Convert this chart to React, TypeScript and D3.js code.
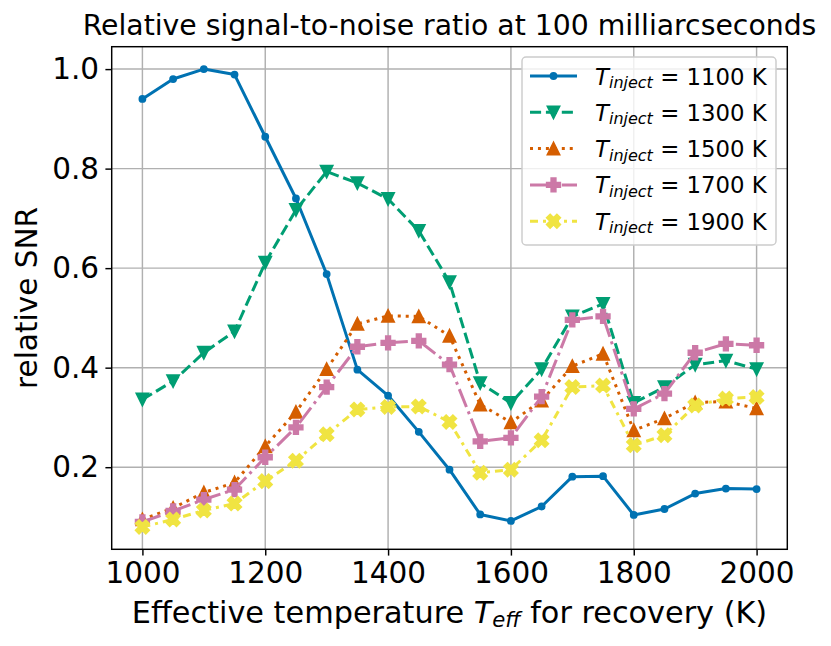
import * as d3 from "d3";
import { useEffect, useRef } from "react";

const temps = [1000, 1050, 1100, 1150, 1200, 1250, 1300, 1350, 1400, 1450, 1500, 1550, 1600, 1650, 1700, 1750, 1800, 1850, 1900, 1950, 2000];

const snr1100 = [0.94, 0.98, 1.0, 0.989, 0.864, 0.74, 0.588, 0.396, 0.344, 0.271, 0.195, 0.105, 0.092, 0.121, 0.181, 0.182, 0.104, 0.116, 0.147, 0.157, 0.156];
const snr1300 = [0.336, 0.373, 0.43, 0.473, 0.611, 0.717, 0.794, 0.771, 0.739, 0.675, 0.572, 0.369, 0.329, 0.397, 0.503, 0.528, 0.329, 0.361, 0.406, 0.414, 0.397];
const snr1500 = [0.095, 0.118, 0.149, 0.169, 0.242, 0.311, 0.397, 0.488, 0.504, 0.503, 0.464, 0.326, 0.29, 0.334, 0.403, 0.428, 0.274, 0.298, 0.33, 0.332, 0.318];
const snr1700 = [0.09, 0.112, 0.135, 0.155, 0.22, 0.28, 0.361, 0.442, 0.45, 0.454, 0.406, 0.252, 0.259, 0.342, 0.496, 0.503, 0.317, 0.348, 0.43, 0.448, 0.445];
const snr1900 = [0.08, 0.095, 0.113, 0.127, 0.172, 0.213, 0.266, 0.316, 0.321, 0.322, 0.291, 0.189, 0.195, 0.254, 0.361, 0.364, 0.244, 0.264, 0.324, 0.338, 0.341];

const injectLabels = ["1100", "1300", "1500", "1700", "1900"];
const xTicks = [1000, 1200, 1400, 1600, 1800, 2000];
const yTicks = [0.2, 0.4, 0.6, 0.8, 1.0];

const FONT = "DejaVu Sans, sans-serif";
const LW = 3;

// matplotlib-like marker paths (centred on 0,0)
function markerPath(kind: string, s: number) {
  const h = s / 2;
  if (kind === "dot") return d3.symbol(d3.symbolCircle, Math.PI * h * h)() as string;
  if (kind === "down") return `M0,${h}L${-h},${-h}L${h},${-h}Z`;
  if (kind === "up") return `M0,${-h}L${-h},${h}L${h},${h}Z`;
  if (kind === "plus") {
    const a = s / 6;
    const pts = [[-1, -3], [1, -3], [1, -1], [3, -1], [3, 1], [1, 1], [1, 3], [-1, 3], [-1, 1], [-3, 1], [-3, -1], [-1, -1]];
    return "M" + pts.map(([x, y]) => `${x * a},${y * a}`).join("L") + "Z";
  }
  const b = s / 4;
  const pts = [[-1, -2], [0, -1], [1, -2], [2, -1], [1, 0], [2, 1], [1, 2], [0, 1], [-1, 2], [-2, 1], [-1, 0], [-2, -1]];
  return "M" + pts.map(([x, y]) => `${x * b},${y * b}`).join("L") + "Z";
}

const series = [
  { values: snr1100, color: "#0072B2", dash: "", marker: "dot", size: 6 },
  { values: snr1300, color: "#009E73", dash: `${3.7 * LW},${1.6 * LW}`, marker: "down", size: 12 },
  { values: snr1500, color: "#D55E00", dash: `${1 * LW},${1.65 * LW}`, marker: "up", size: 12 },
  { values: snr1700, color: "#CC79A7", dash: `${6.4 * LW},${1.6 * LW},${1 * LW},${1.6 * LW}`, marker: "plus", size: 13.5 },
  { values: snr1900, color: "#F0E442", dash: `8,5,${LW},5`, marker: "x", size: 13.5 },
];

export default function App() {
  const svgRef = useRef<SVGSVGElement | null>(null);

  useEffect(() => {
    if (!svgRef.current) return;
    const width = 831;
    const height = 646;
    const margin = { top: 46.7, right: 43.7, bottom: 96.7, left: 111.7 };

    d3.select(svgRef.current).selectAll("*").remove();
    const svg = d3.select(svgRef.current).attr("width", width).attr("height", height);

    const x = d3.scaleLinear().domain([950, 2050]).range([margin.left, width - margin.right]);
    const y = d3.scaleLinear().domain([0.035, 1.045]).range([height - margin.bottom, margin.top]);

    svg.append("rect").attr("width", width).attr("height", height).attr("fill", "white");

    // grid
    const grid = svg.append("g").attr("stroke", "#b0b0b0").attr("stroke-width", 1.45);
    xTicks.forEach((t) => {
      grid.append("line").attr("x1", x(t)).attr("x2", x(t)).attr("y1", margin.top).attr("y2", height - margin.bottom);
    });
    yTicks.forEach((t) => {
      grid.append("line").attr("y1", y(t)).attr("y2", y(t)).attr("x1", margin.left).attr("x2", width - margin.right);
    });

    // series
    const line = d3
      .line<number>()
      .x((_, i) => x(temps[i]))
      .y((d) => y(d));

    const plot = svg.append("g");
    series.forEach((s) => {
      plot
        .append("path")
        .datum(s.values)
        .attr("fill", "none")
        .attr("stroke", s.color)
        .attr("stroke-width", LW)
        .attr("stroke-dasharray", s.dash || null)
        .attr("stroke-linejoin", "round")
        .attr("d", line);
      plot
        .append("g")
        .selectAll("path")
        .data(s.values)
        .join("path")
        .attr("transform", (d, i) => `translate(${x(temps[i])},${y(d)})`)
        .attr("d", markerPath(s.marker, s.size))
        .attr("fill", s.color)
        .attr("stroke", s.color)
        .attr("stroke-width", 1.8)
        .attr("stroke-linejoin", "miter");
    });

    // spines
    svg
      .append("rect")
      .attr("x", margin.left)
      .attr("y", margin.top)
      .attr("width", width - margin.left - margin.right)
      .attr("height", height - margin.top - margin.bottom)
      .attr("fill", "none")
      .attr("stroke", "black")
      .attr("stroke-width", 1.45);

    // x axis
    const xAxis = svg
      .append("g")
      .attr("transform", `translate(0,${height - margin.bottom})`)
      .call(d3.axisBottom(x).tickValues(xTicks).tickSize(6.3).tickPadding(6.3).tickFormat(d3.format("d")));
    xAxis.select(".domain").remove();
    xAxis.selectAll("line").attr("stroke-width", 1.45);
    xAxis.selectAll("text").attr("font-family", FONT).attr("font-size", 29.5).attr("fill", "black");

    // y axis
    const yAxis = svg
      .append("g")
      .attr("transform", `translate(${margin.left},0)`)
      .call(d3.axisLeft(y).tickValues(yTicks).tickSize(6.3).tickPadding(6.3).tickFormat(d3.format(".1f")));
    yAxis.select(".domain").remove();
    yAxis.selectAll("line").attr("stroke-width", 1.45);
    yAxis.selectAll("text").attr("font-family", FONT).attr("font-size", 29.5).attr("fill", "black");

    const cx = (margin.left + width - margin.right) / 2;

    // title
    svg
      .append("text")
      .attr("x", cx)
      .attr("y", 35)
      .attr("text-anchor", "middle")
      .attr("font-family", FONT)
      .attr("font-size", 28.3)
      .text("Relative signal-to-noise ratio at 100 milliarcseconds");

    // x label
    const xl = svg
      .append("text")
      .attr("x", cx)
      .attr("y", 622.7)
      .attr("text-anchor", "middle")
      .attr("font-family", FONT)
      .attr("font-size", 30.3);
    xl.append("tspan").text("Effective temperature ");
    xl.append("tspan").attr("font-style", "italic").text("T");
    xl.append("tspan").attr("font-style", "italic").attr("font-size", 21.2).attr("dy", 4.5).text("eff");
    xl.append("tspan").attr("dy", -4.5).text(" for recovery (K)");

    // y label
    svg
      .append("text")
      .attr("transform", `translate(37,${(margin.top + height - margin.bottom) / 2}) rotate(-90)`)
      .attr("text-anchor", "middle")
      .attr("font-family", FONT)
      .attr("font-size", 29.5)
      .text("relative SNR");

    // legend
    const lg = svg.append("g");
    lg.append("rect")
      .attr("x", 522)
      .attr("y", 57)
      .attr("width", 254)
      .attr("height", 188)
      .attr("rx", 4)
      .attr("fill", "white")
      .attr("fill-opacity", 0.8)
      .attr("stroke", "#cccccc")
      .attr("stroke-width", 1.45);
    series.forEach((s, i) => {
      const ly = 76 + i * 36.3;
      lg.append("line")
        .attr("x1", 530)
        .attr("x2", 577)
        .attr("y1", ly)
        .attr("y2", ly)
        .attr("stroke", s.color)
        .attr("stroke-width", LW)
        .attr("stroke-dasharray", s.dash || null);
      lg.append("path")
        .attr("transform", `translate(553.5,${ly})`)
        .attr("d", markerPath(s.marker, s.size))
        .attr("fill", s.color)
        .attr("stroke", s.color)
        .attr("stroke-width", 1.8);
      const t = lg
        .append("text")
        .attr("x", 595)
        .attr("y", ly + 8.5)
        .attr("font-family", FONT)
        .attr("font-size", 22.8);
      t.append("tspan").attr("font-style", "italic").text("T");
      t.append("tspan").attr("font-style", "italic").attr("font-size", 16).attr("dy", 3.5).text("inject");
      t.append("tspan").attr("dy", -3.5).text(` = ${injectLabels[i]} K`);
    });
  }, []);

  return (
    <div style={{ position: "absolute", left: 0, top: 0 }}>
      <svg ref={svgRef} />
    </div>
  );
}
